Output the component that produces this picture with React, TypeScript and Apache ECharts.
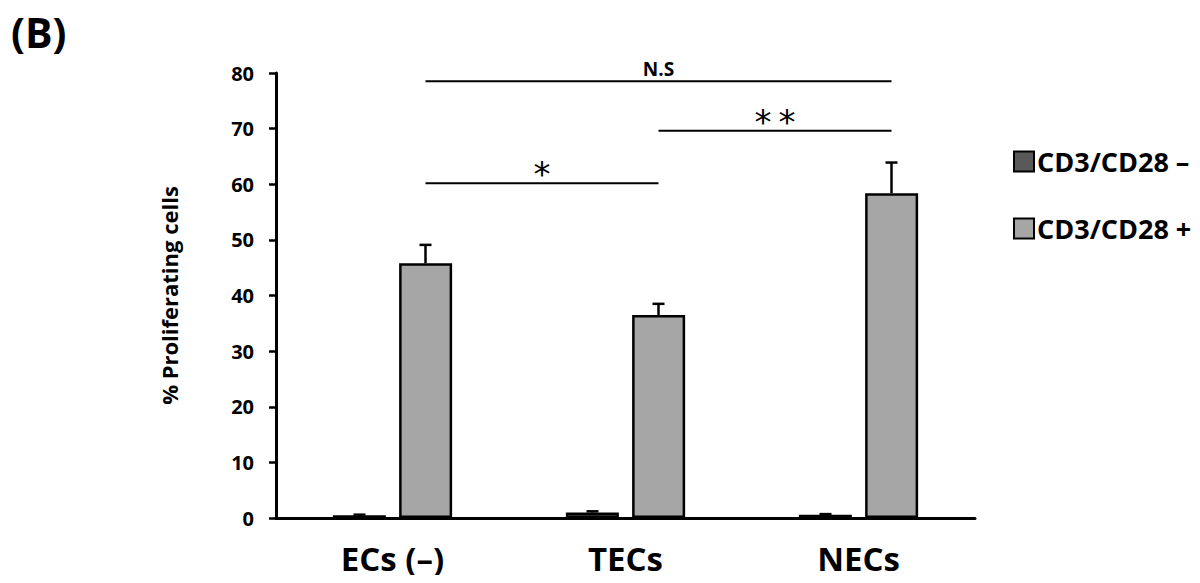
import React, { useEffect, useRef } from "react";
import * as echarts from "echarts";

const categories = ["ECs (–)", "TECs", "NECs"];
const seriesNames = ["CD3/CD28 –", "CD3/CD28 +"];
const negValues = [0.5, 1.0, 0.6];
const negErrors = [0.1, 0.2, 0.1];
const posValues = [45.8, 36.5, 58.4];
const posErrors = [3.3, 2.0, 5.5];
const yTicks = { min: 0, max: 80, interval: 10 };
// significance brackets: [fromCategory, toCategory, yLevel, label]
const sigBrackets: [number, number, number, string][] = [
  [0, 2, 78.5, "N.S"],
  [1, 2, 69.6, "**"],
  [0, 1, 60.2, "*"],
];

const FONT = "'Open Sans', 'Noto Sans', sans-serif";
const BAR_W = 53;
const OFFSET = 33;

export default function App() {
  const ref = useRef<HTMLDivElement>(null);
  useEffect(() => {
    if (!ref.current) return;
    const chart = echarts.init(ref.current, undefined, { renderer: "svg" });

    const errData = [
      ...negValues.map((v, i) => [i, v, negErrors[i], -1]),
      ...posValues.map((v, i) => [i, v, posErrors[i], 1]),
    ];

    chart.setOption({
      animation: false,
      backgroundColor: "#ffffff",
      graphic: [
        {
          type: "text",
          left: 11,
          top: 4,
          style: { text: "(B)", font: `bold 41px ${FONT}`, lineHeight: 56, fill: "#000" },
        },
      ],
      grid: { left: 276, right: 225, top: 73, bottom: 65, containLabel: false },
      legend: {
        orient: "vertical",
        left: 1008,
        top: 143,
        itemGap: 40,
        itemWidth: 20,
        itemHeight: 20,
        icon: "rect",
        data: seriesNames,
        itemStyle: { borderColor: "#000", borderWidth: 2 },
        textStyle: { fontFamily: FONT, fontWeight: "bold", fontSize: 27, lineHeight: 26, color: "#000", padding: [0, 0, 0, -2] },
      },
      xAxis: {
        type: "category",
        data: categories,
        axisLine: { lineStyle: { color: "#000", width: 3 } },
        axisTick: { show: false },
        axisLabel: { fontFamily: FONT, fontWeight: "bold", fontSize: 33, lineHeight: 33, color: "#000", margin: 24 },
      },
      yAxis: {
        type: "value",
        min: yTicks.min,
        max: yTicks.max,
        interval: yTicks.interval,
        name: "% Proliferating cells",
        nameLocation: "middle",
        nameGap: 96,
        nameTextStyle: { fontFamily: FONT, fontWeight: "bold", fontSize: 22, color: "#000" },
        splitLine: { show: false },
        axisLine: { show: true, lineStyle: { color: "#000", width: 3 } },
        axisTick: { show: true, length: 7, lineStyle: { color: "#000", width: 2.5 } },
        axisLabel: { fontFamily: FONT, fontWeight: "bold", fontSize: 20, color: "#000", margin: 22 },
      },
      series: [
        {
          name: seriesNames[0],
          type: "bar",
          data: negValues,
          barWidth: BAR_W,
          barGap: "25%",
          itemStyle: { color: "#595959", borderColor: "#000", borderWidth: 2.5 },
        },
        {
          name: seriesNames[1],
          type: "bar",
          data: posValues,
          barWidth: BAR_W,
          barGap: "25%",
          itemStyle: { color: "#a6a6a6", borderColor: "#000", borderWidth: 2.5 },
        },
        {
          type: "custom",
          name: "errors",
          data: errData,
          z: 5,
          renderItem: (params: any, api: any) => {
            const cat = api.value(0);
            const v = api.value(1);
            const e = api.value(2);
            const side = api.value(3);
            const base = api.coord([cat, v]);
            const top = api.coord([cat, v + e]);
            const x = base[0] + side * OFFSET;
            return {
              type: "group",
              children: [
                { type: "line", shape: { x1: x, y1: base[1], x2: x, y2: top[1] }, style: { stroke: "#000", lineWidth: 2.5 } },
                { type: "line", shape: { x1: x - 6, y1: top[1], x2: x + 6, y2: top[1] }, style: { stroke: "#000", lineWidth: 2.5 } },
              ],
            };
          },
        },
        {
          type: "custom",
          name: "significance",
          data: sigBrackets.map((b) => [b[0], b[1], b[2]]),
          z: 5,
          renderItem: (params: any, api: any) => {
            const b = sigBrackets[params.dataIndex];
            const p1 = api.coord([b[0], b[2]]);
            const p2 = api.coord([b[1], b[2]]);
            const x1 = p1[0] + OFFSET;
            const x2 = p2[0] + OFFSET;
            const isStar = b[3].indexOf("*") >= 0;
            return {
              type: "group",
              children: [
                { type: "line", shape: { x1, y1: p1[1], x2, y2: p1[1] }, style: { stroke: "#000", lineWidth: 2 } },
                {
                  type: "text",
                  style: {
                    text: isStar ? b[3].split("").join("\u2009") : b[3],
                    x: (x1 + x2) / 2,
                    y: isStar ? p1[1] + 8 : p1[1] - 3,
                    align: "center",
                    verticalAlign: "bottom",
                    font: isStar ? `34px 'DejaVu Sans', sans-serif` : `bold 19px ${FONT}`,
                    fill: "#000",
                  },
                },
              ],
            };
          },
        },
      ],
    });
    return () => chart.dispose();
  }, []);
  return <div ref={ref} style={{ width: 1200, height: 583, margin: -8 }} />;
}
